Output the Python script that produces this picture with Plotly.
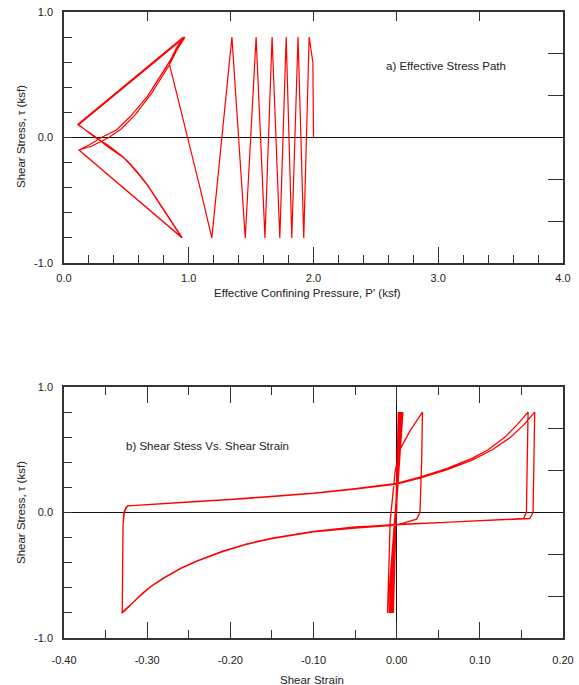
import plotly.graph_objects as go

# ---------------- a) Effective stress path ----------------
# early cycles (P' in ksf, tau in ksf)
esp_cyc_p = [2.0, 1.995, 1.965, 1.922, 1.876, 1.826, 1.781, 1.730, 1.668, 1.611, 1.540, 1.453, 1.346, 1.185]
esp_cyc_tau = [0.0, 0.6, 0.8, -0.8, 0.8, -0.8, 0.8, -0.8, 0.8, -0.8, 0.8, -0.8, 0.8, -0.8]
# loading to first apex (with kink)
esp_load1_p = [1.09, 0.99, 0.92, 0.865, 0.849, 0.846, 0.855, 0.90, 0.958]
esp_load1_tau = [-0.4, 0.0, 0.28, 0.50, 0.55, 0.58, 0.62, 0.71, 0.8]
# unload 1 (inner upper line, right) + outer lower line
esp_unl1_p = [0.84, 0.70, 0.57, 0.46, 0.36, 0.22, 0.12, 0.948]
esp_unl1_tau = [0.57, 0.35, 0.18, 0.07, 0.0, -0.07, -0.10, -0.8]
# reload 1 (inner lower line) + outer upper line
esp_rel1_p = [0.85, 0.75, 0.668, 0.60, 0.535, 0.47, 0.40, 0.35, 0.25, 0.112, 0.955]
esp_rel1_tau = [-0.65, -0.49, -0.375, -0.29, -0.215, -0.15, -0.10, -0.06, 0.0, 0.105, 0.8]
# unload 2
esp_unl2_p = [0.82, 0.67, 0.535, 0.42, 0.30, 0.20, 0.12, 0.945]
esp_unl2_tau = [0.56, 0.33, 0.17, 0.06, 0.0, -0.06, -0.10, -0.8]
# reload 2
esp_rel2_p = [0.85, 0.75, 0.668, 0.60, 0.535, 0.47, 0.40, 0.34, 0.26, 0.115, 0.970]
esp_rel2_tau = [-0.655, -0.495, -0.38, -0.295, -0.22, -0.155, -0.105, -0.065, 0.0, 0.10, 0.8]
# unload 3
esp_unl3_p = [0.82, 0.67, 0.53, 0.42, 0.30, 0.20, 0.12, 0.950]
esp_unl3_tau = [0.56, 0.33, 0.165, 0.06, 0.0, -0.06, -0.10, -0.8]

# ---------------- b) Shear stress vs shear strain ----------------
ss_cyc_strain = [0.0, 0.002, -0.004, 0.003, -0.005, 0.004, -0.006, 0.005, -0.0075, 0.006, -0.009, 0.0075, -0.011]
ss_cyc_tau = [0.0, 0.8, -0.8, 0.8, -0.8, 0.8, -0.8, 0.8, -0.8, 0.8, -0.8, 0.8, -0.8]
# medium loop loading
ss_load1_strain = [-0.009, -0.0078, -0.0018, 0.004, 0.0075, 0.012, 0.016, 0.024, 0.031]
ss_load1_tau = [-0.4, -0.067, 0.33, 0.50, 0.545, 0.60, 0.65, 0.73, 0.8]
# unload 1 to large negative strain
ss_unl1_strain = [0.030, 0.028, 0.024, 0.0, -0.05, -0.10, -0.15, -0.18, -0.21, -0.24, -0.26, -0.28, -0.295, -0.305, -0.315, -0.323, -0.330]
ss_unl1_tau = [0.4, 0.0, -0.053, -0.10, -0.125, -0.155, -0.208, -0.252, -0.312, -0.387, -0.447, -0.522, -0.587, -0.642, -0.702, -0.757, -0.8]
# reload 1
ss_rel1_strain = [-0.3295, -0.329, -0.3275, -0.325, -0.3225, -0.3, -0.25, -0.2, -0.15, -0.1, -0.05, 0.0, 0.03, 0.06, 0.09, 0.11, 0.13, 0.145, 0.158]
ss_rel1_tau = [-0.4, -0.1, 0.0, 0.04, 0.053, 0.064, 0.085, 0.105, 0.128, 0.155, 0.19, 0.232, 0.285, 0.35, 0.43, 0.5, 0.6, 0.7, 0.8]
# unload 2
ss_unl2_strain = [0.157, 0.156, 0.1525, 0.10, 0.05, 0.0, -0.05, -0.10, -0.15, -0.18, -0.21, -0.24, -0.26, -0.28, -0.295, -0.305, -0.315, -0.323, -0.330]
ss_unl2_tau = [0.4, 0.0, -0.048, -0.065, -0.078, -0.093, -0.115, -0.15, -0.205, -0.25, -0.31, -0.385, -0.445, -0.52, -0.585, -0.64, -0.70, -0.755, -0.8]
# reload 2
ss_rel2_strain = [-0.3295, -0.329, -0.328, -0.3255, -0.3235, -0.3, -0.25, -0.2, -0.15, -0.1, -0.05, 0.0, 0.03, 0.06, 0.09, 0.115, 0.137, 0.153, 0.166]
ss_rel2_tau = [-0.4, -0.1, 0.0, 0.04, 0.053, 0.062, 0.083, 0.103, 0.126, 0.152, 0.186, 0.226, 0.277, 0.34, 0.415, 0.5, 0.6, 0.7, 0.8]
# unload 3
ss_unl3_strain = [0.165, 0.164, 0.160, 0.10, 0.05, 0.0, -0.05, -0.10, -0.15, -0.18, -0.21, -0.24, -0.26, -0.28, -0.295, -0.305, -0.315, -0.323, -0.331]
ss_unl3_tau = [0.4, 0.0, -0.048, -0.068, -0.08, -0.095, -0.117, -0.152, -0.208, -0.253, -0.313, -0.388, -0.448, -0.523, -0.588, -0.643, -0.703, -0.758, -0.8]

esp_p = esp_cyc_p + esp_load1_p + esp_unl1_p + esp_rel1_p + esp_unl2_p + esp_rel2_p + esp_unl3_p
esp_tau = esp_cyc_tau + esp_load1_tau + esp_unl1_tau + esp_rel1_tau + esp_unl2_tau + esp_rel2_tau + esp_unl3_tau
ss_strain = ss_cyc_strain + ss_load1_strain + ss_unl1_strain + ss_rel1_strain + ss_unl2_strain + ss_rel2_strain + ss_unl3_strain
ss_tau = ss_cyc_tau + ss_load1_tau + ss_unl1_tau + ss_rel1_tau + ss_unl2_tau + ss_rel2_tau + ss_unl3_tau

# tick labels
esp_xticks = [0, 1, 2, 3, 4]
esp_xlabels = ["0.0", "1.0", "2.0", "3.0", "4.0"]
tau_ticks = [-1, 0, 1]
tau_labels = ["-1.0", "0.0", "1.0"]
ss_xticks = [-0.4, -0.3, -0.2, -0.1, 0.0, 0.1, 0.2]
ss_xlabels = ["-0.40", "-0.30", "-0.20", "-0.10", "0.00", "0.10", "0.20"]
esp_top_ticks = [2/3, 4/3, 2.0, 8/3, 10/3]
right_ticks = [-2/3, -1/3, 1/3, 2/3]

W, H = 579, 685
FONT = "Liberation Sans, Arial, sans-serif"
TXT = "#222"
AX = "#333"
RED = "#ff0000"

def px(x):
    return x / W

def py(y):
    return 1 - y / H

xdom = [px(64), px(563)]
ydom_a = [py(263), py(12)]
ydom_b = [py(638), py(387)]

fig = go.Figure()
fig.add_trace(go.Scatter(x=esp_p, y=esp_tau, mode="lines", line=dict(color=RED, width=1.2),
                         xaxis="x", yaxis="y", showlegend=False, hoverinfo="skip"))
fig.add_trace(go.Scatter(x=ss_strain, y=ss_tau, mode="lines", line=dict(color=RED, width=1.3),
                         xaxis="x2", yaxis="y2", showlegend=False, hoverinfo="skip"))
# invisible carriers for secondary (top/right) tick axes
fig.add_trace(go.Scatter(x=[0], y=[0], mode="markers", marker=dict(opacity=0), xaxis="x3", yaxis="y3",
                         showlegend=False, hoverinfo="skip"))
fig.add_trace(go.Scatter(x=[0], y=[0], mode="markers", marker=dict(opacity=0), xaxis="x4", yaxis="y4",
                         showlegend=False, hoverinfo="skip"))

tickfont = dict(family=FONT, size=11, color=TXT)
common = dict(showgrid=False, showline=True, linecolor=AX, linewidth=1.5, mirror=True,
              ticks="inside", tickcolor=AX, tickwidth=1.2, tickfont=tickfont, fixedrange=True,
              automargin=False)
sec = dict(showticklabels=False, ticks="inside", tickcolor=AX, tickwidth=1.2,
           showgrid=False, zeroline=False, showline=False, fixedrange=True, automargin=False)

fig.update_layout(
    width=W, height=H, margin=dict(l=0, r=0, t=0, b=0, pad=0, autoexpand=False),
    paper_bgcolor="white", plot_bgcolor="white",
    xaxis=dict(domain=xdom, anchor="y", range=[0, 4], tickvals=esp_xticks, ticktext=esp_xlabels,
               ticklen=16, zeroline=False, ticklabelstandoff=4,
               minor=dict(dtick=0.2, tick0=0, ticks="inside", ticklen=8, tickcolor=AX, tickwidth=1.2),
               **common),
    yaxis=dict(domain=ydom_a, anchor="x", range=[-1, 1], tickvals=tau_ticks, ticktext=tau_labels,
               ticklen=8, zeroline=True, zerolinecolor="#111", zerolinewidth=1, ticklabelstandoff=7,
               minor=dict(dtick=0.2, tick0=0, ticks="inside", ticklen=8, tickcolor=AX, tickwidth=1.2),
               **common),
    xaxis3=dict(overlaying="x", side="top", anchor="y3", range=[0, 4], tickvals=esp_top_ticks,
                ticklen=9, **sec),
    yaxis3=dict(overlaying="y", side="right", anchor="x3", range=[-1, 1], tickvals=right_ticks,
                ticklen=15, **sec),
    xaxis2=dict(domain=xdom, anchor="y2", range=[-0.4, 0.2], tickvals=ss_xticks, ticktext=ss_xlabels,
                ticklen=16, zeroline=True, zerolinecolor="#111", zerolinewidth=1, ticklabelstandoff=11,
                minor=dict(dtick=0.05, tick0=0, ticks="inside", ticklen=8, tickcolor=AX, tickwidth=1.2),
                **common),
    yaxis2=dict(domain=ydom_b, anchor="x2", range=[-1, 1], tickvals=tau_ticks, ticktext=tau_labels,
                ticklen=8, zeroline=True, zerolinecolor="#111", zerolinewidth=1, ticklabelstandoff=7,
                minor=dict(dtick=0.2, tick0=0, ticks="inside", ticklen=8, tickcolor=AX, tickwidth=1.2),
                **common),
    xaxis4=dict(overlaying="x2", side="top", anchor="y4", range=[-0.4, 0.2], tickvals=ss_xticks,
                ticklen=16,
                minor=dict(dtick=0.05, tick0=0, ticks="inside", ticklen=8, tickcolor=AX, tickwidth=1.2),
                **sec),
    yaxis4=dict(overlaying="y2", side="right", anchor="x4", range=[-1, 1], tickvals=right_ticks,
                ticklen=15, **sec),
)

afont = dict(family=FONT, size=11.5, color=TXT)
annots = [
    dict(text="Shear Stress, τ (ksf)", x=px(21), y=py(137), textangle=-90),
    dict(text="Effective Confining Pressure, P' (ksf)", x=px(307), y=py(293)),
    dict(text="Shear Stress, τ (ksf)", x=px(21), y=py(513), textangle=-90),
    dict(text="Shear Strain", x=px(312), y=py(680)),
]
for a in annots:
    fig.add_annotation(xref="paper", yref="paper", showarrow=False, font=afont,
                       xanchor="center", yanchor="middle", **a)
fig.add_annotation(text="a) Effective Stress Path", xref="paper", yref="paper", x=px(384), y=py(66),
                   xanchor="left", yanchor="middle", showarrow=False, font=afont)
fig.add_annotation(text="b) Shear Stess Vs. Shear Strain", xref="paper", yref="paper", x=px(124), y=py(446),
                   xanchor="left", yanchor="middle", showarrow=False, font=afont)

fig.write_html("out.html")
